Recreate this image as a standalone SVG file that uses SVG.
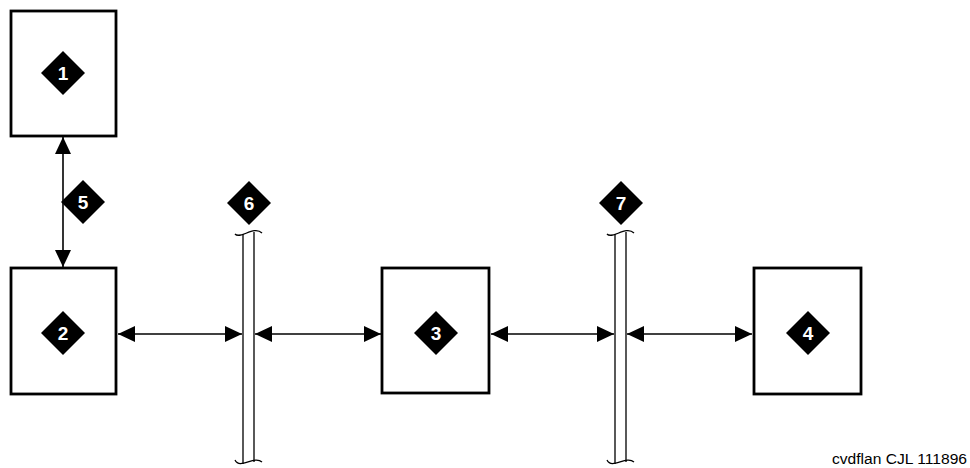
<svg xmlns="http://www.w3.org/2000/svg" width="970" height="468" viewBox="0 0 970 468">
<defs>
<style>
.box{fill:#fff;stroke:#000;stroke-width:2.8}
.dia{fill:#000}
.num{fill:#fff;font-family:"Liberation Sans",Arial,sans-serif;font-weight:bold;font-size:19px;text-anchor:middle}
.con{stroke:#000;stroke-width:1.6;fill:none;marker-start:url(#ah);marker-end:url(#ah)}
.bar{stroke:#000;stroke-width:1.3;fill:none}
.lbl{font-family:"Liberation Sans",Arial,sans-serif;font-size:14px;fill:#000}
</style>
<marker id="ah" viewBox="0 0 17 16" refX="17" refY="8" markerWidth="17" markerHeight="16" markerUnits="userSpaceOnUse" orient="auto-start-reverse">
<path d="M0,0 L17,8 L0,16 Z" fill="#000"/>
</marker>
<path id="d" d="M0,-22 L22,0 L0,22 L-22,0 Z"/>
</defs>
<rect width="970" height="468" fill="#fff"/>
<g id="connectors">
<line class="con" x1="63" y1="137" x2="63" y2="267"/>
<line class="con" x1="118" y1="334" x2="242" y2="334"/>
<line class="con" x1="255" y1="334" x2="381" y2="334"/>
<line class="con" x1="491" y1="334" x2="614" y2="334"/>
<line class="con" x1="627" y1="334" x2="752" y2="334"/>
</g>
<g id="node1">
<rect class="box" x="11" y="11" width="105" height="125"/>
<use href="#d" x="63" y="73" class="dia"/>
<text class="num" x="63" y="80">1</text>
</g>
<g id="node2">
<rect class="box" x="11" y="268" width="105" height="126"/>
<use href="#d" x="63" y="333" class="dia"/>
<text class="num" x="63" y="340">2</text>
</g>
<g id="node3">
<rect class="box" x="382" y="268" width="107" height="125"/>
<use href="#d" x="436" y="333" class="dia"/>
<text class="num" x="436" y="340">3</text>
</g>
<g id="node4">
<rect class="box" x="754" y="268" width="107" height="126"/>
<use href="#d" x="808" y="333" class="dia"/>
<text class="num" x="808" y="340">4</text>
</g>
<g id="label5">
<use href="#d" x="83" y="202" class="dia"/>
<text class="num" x="83" y="209">5</text>
</g>
<g id="bar6">
<path class="bar" d="M243,234 V464 M254,232 V462"/>
<path class="bar" d="M235,234 C240,240 254,225 262,233"/>
<path class="bar" d="M235,460 C240,470 254,455 262,462"/>
<use href="#d" x="249" y="203" class="dia"/>
<text class="num" x="249" y="210">6</text>
</g>
<g id="bar7">
<path class="bar" d="M615,234 V464 M626,232 V462"/>
<path class="bar" d="M607,234 C612,240 626,225 634,233"/>
<path class="bar" d="M607,460 C612,470 626,455 634,462"/>
<use href="#d" x="621" y="203" class="dia"/>
<text class="num" x="621" y="210">7</text>
</g>
<text class="lbl" x="832" y="464" textLength="135" lengthAdjust="spacingAndGlyphs">cvdflan CJL 111896</text>
</svg>
